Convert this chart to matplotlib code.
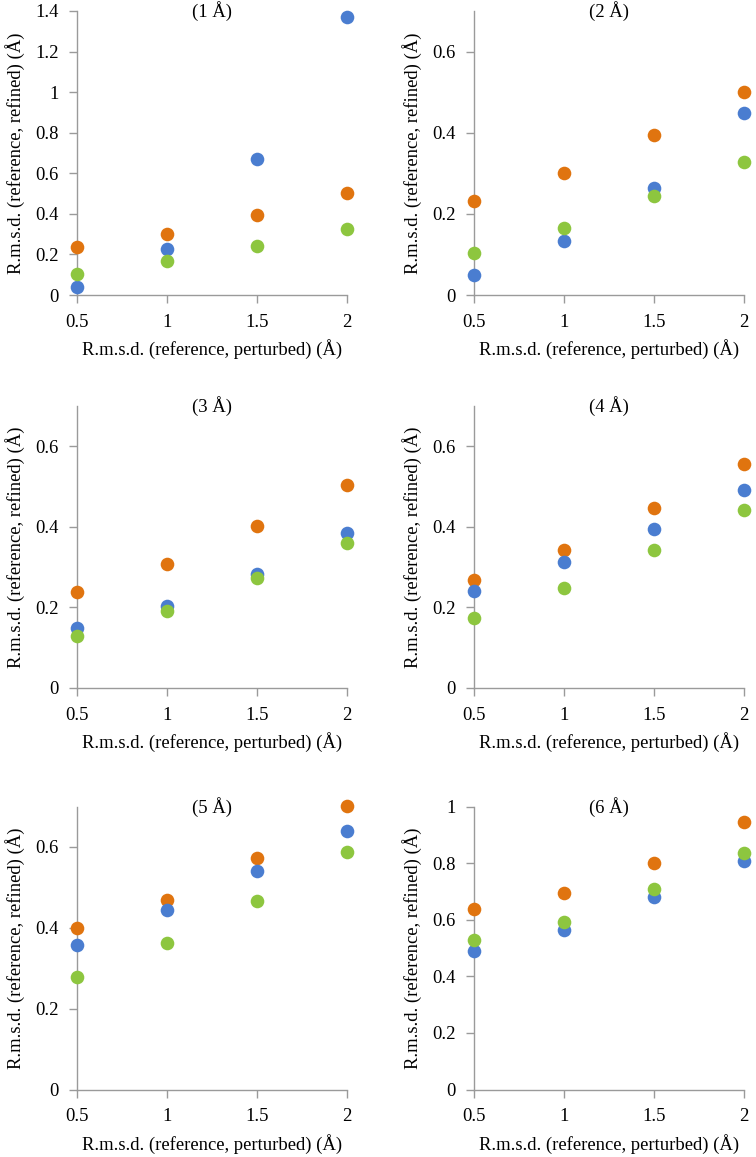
import matplotlib
matplotlib.use("Agg")
import matplotlib.pyplot as plt

plt.rcParams['font.family'] = ['Liberation Serif', 'DejaVu Serif']
plt.rcParams['font.size'] = 13.4

# perturbation x values (R.m.s.d. reference, perturbed)
x_vals = [0.5, 1.0, 1.5, 2.0]
panel_titles = ['(1 Å)', '(2 Å)', '(3 Å)', '(4 Å)', '(5 Å)', '(6 Å)']

# refined r.m.s.d. per panel
blue = [
    [0.04, 0.225, 0.672, 1.372],
    [0.049, 0.133, 0.265, 0.448],
    [0.148, 0.203, 0.284, 0.385],
    [0.240, 0.312, 0.395, 0.492],
    [0.357, 0.443, 0.540, 0.640],
    [0.488, 0.562, 0.680, 0.807],
]
orange = [
    [0.235, 0.300, 0.394, 0.501],
    [0.232, 0.301, 0.394, 0.500],
    [0.239, 0.307, 0.402, 0.505],
    [0.268, 0.343, 0.446, 0.555],
    [0.400, 0.470, 0.573, 0.701],
    [0.639, 0.695, 0.802, 0.944],
]
green = [
    [0.103, 0.169, 0.243, 0.327],
    [0.104, 0.164, 0.244, 0.327],
    [0.128, 0.190, 0.273, 0.361],
    [0.173, 0.249, 0.342, 0.442],
    [0.279, 0.362, 0.467, 0.588],
    [0.527, 0.592, 0.708, 0.837],
]

y_limits = [1.4, 0.7, 0.7, 0.7, 0.7, 1.0]
y_ticks = [
    [0, 0.2, 0.4, 0.6, 0.8, 1, 1.2, 1.4],
    [0, 0.2, 0.4, 0.6],
    [0, 0.2, 0.4, 0.6],
    [0, 0.2, 0.4, 0.6],
    [0, 0.2, 0.4, 0.6],
    [0, 0.2, 0.4, 0.6, 0.8, 1],
]

colors = {'blue': '#4a7dd0', 'orange': '#e0740f', 'green': '#8dc63f'}
axis_grey = '#9a9a9a'


def fmt(v):
    return f'{v:g}'


fig = plt.figure(figsize=(7.56, 11.57), dpi=100)

# axes rectangles in figure fractions (left, bottom, width, height)
lefts = [0.102, 0.627]
rows = [(0.745, 0.2455), (0.4054, 0.2437), (0.0583, 0.2446)]

for i in range(6):
    r, c = divmod(i, 2)
    bottom, height = rows[r]
    ax = fig.add_axes([lefts[c], bottom, 0.357, height])

    # draw order: orange, blue, green like the original overlaps
    for series, key in [(orange, 'orange'), (blue, 'blue'), (green, 'green')]:
        ax.plot(x_vals, series[i], 'o', color=colors[key], ms=9.8,
                mec='none', clip_on=False, zorder=3)

    ax.set_xlim(0.5, 2.0)
    ax.set_ylim(0, y_limits[i])
    ax.set_xticks(x_vals)
    ax.set_xticklabels([fmt(v) for v in x_vals])
    ax.set_yticks(y_ticks[i])
    ax.set_yticklabels([fmt(v) for v in y_ticks[i]])

    for side in ['top', 'right']:
        ax.spines[side].set_visible(False)
    for side in ['left', 'bottom']:
        ax.spines[side].set_color(axis_grey)
        ax.spines[side].set_linewidth(1.0)
    ax.tick_params(direction='out', length=5.5, width=1.0, color=axis_grey,
                   pad=8, labelsize=13.4)

    ax.set_title(panel_titles[i], fontsize=13.4, y=1.0, va='center', pad=0)
    ax.set_ylabel('R.m.s.d. (reference, refined) (Å)', fontsize=13.4, labelpad=7)
    ax.set_xlabel('R.m.s.d. (reference, perturbed) (Å)', fontsize=13.4, labelpad=6)

fig.savefig('out.png', dpi=100)
